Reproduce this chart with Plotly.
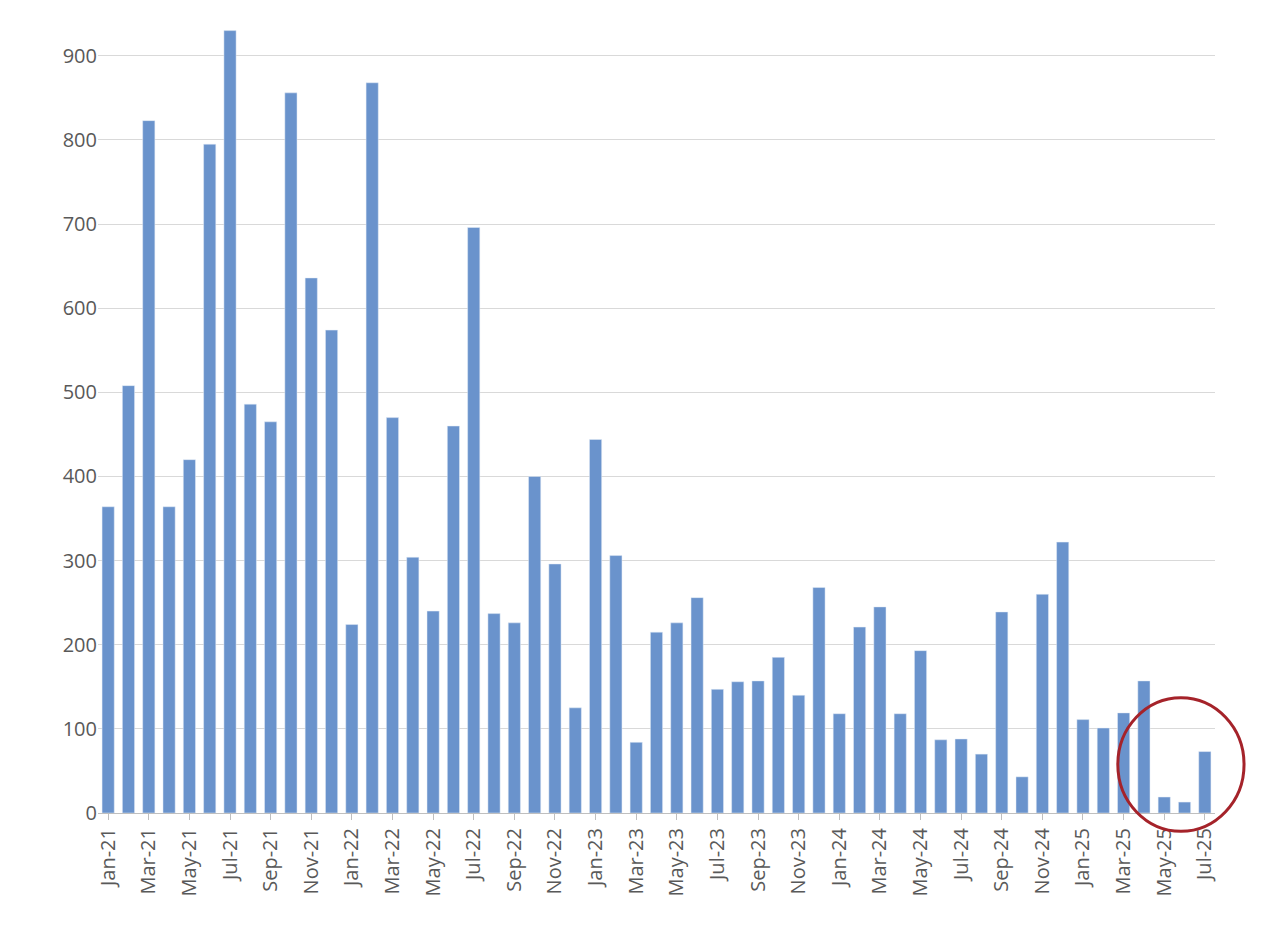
import plotly.graph_objects as go
import pandas as pd

months = pd.date_range("2021-01-01", "2025-07-01", freq="MS").strftime("%b-%y").tolist()
values = [364, 508, 823, 364, 420, 795, 930, 486, 465, 856, 636, 574,
          224, 868, 470, 304, 240, 460, 696, 237, 226, 400, 296, 125,
          444, 306, 84, 215, 226, 256, 147, 156, 157, 185, 140, 268,
          118, 221, 245, 118, 193, 87, 88, 70, 239, 43, 260, 322,
          111, 101, 119, 157, 19, 13, 73]
tick_labels = months[::2]

fig = go.Figure(go.Bar(x=months, y=values, marker_color="#6a93cc", width=0.6))
fig.update_layout(
    width=1280, height=934, plot_bgcolor="white", paper_bgcolor="white",
    margin=dict(l=90, r=73, t=10, b=129), showlegend=False,
    font=dict(family="Open Sans, sans-serif", size=20, color="#595959"),
    xaxis=dict(type="category", tickvals=tick_labels, ticktext=tick_labels, tickangle=-90,
               showline=True, linecolor="#bfbfbf", ticks="outside", tickcolor="#bfbfbf", ticklen=6),
    yaxis=dict(range=[0, 945], tickvals=list(range(0, 1000, 100)), gridcolor="#d9d9d9",
               zeroline=False, ticks=""),
    shapes=[dict(type="circle", xref="paper", yref="paper", x0=0.913, x1=1.026,
                 y0=-0.023, y1=0.145, line=dict(color="#a5232a", width=3))],
)
fig.write_html("out.html")
